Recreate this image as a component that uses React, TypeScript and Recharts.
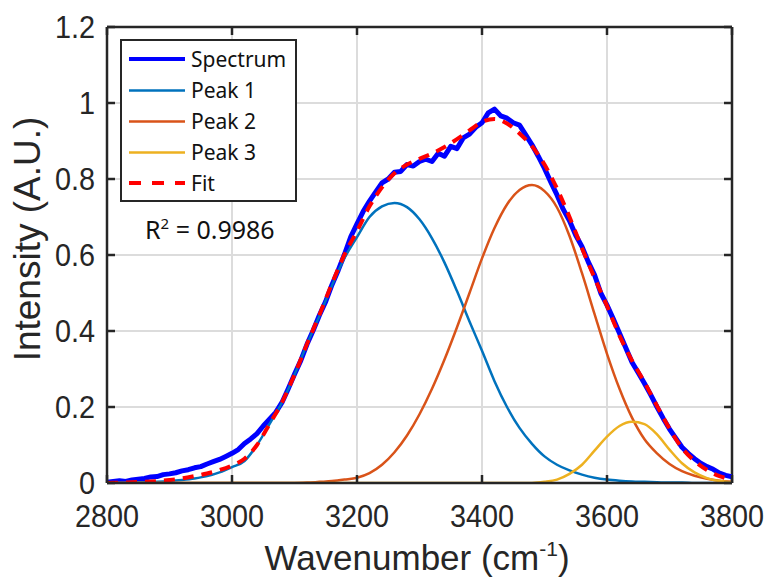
import React from 'react';
import { LineChart, Line, XAxis, YAxis, CartesianGrid, ReferenceLine } from 'recharts';

// wavenumber grids (cm-1)
const waveFine = [
  2800, 2810, 2820, 2830, 2840, 2850, 2860, 2870, 2880, 2890,
  2900, 2910, 2920, 2930, 2940, 2950, 2960, 2970, 2980, 2990,
  3000, 3010, 3020, 3030, 3040, 3050, 3060, 3070, 3080, 3090,
  3100, 3110, 3120, 3130, 3140, 3150, 3160, 3170, 3180, 3190,
  3200, 3210, 3220, 3230, 3240, 3250, 3260, 3270, 3280, 3290,
  3300, 3310, 3320, 3330, 3340, 3350, 3360, 3370, 3380, 3390,
  3400, 3410, 3420, 3430, 3440, 3450, 3460, 3470, 3480, 3490,
  3500, 3510, 3520, 3530, 3540, 3550, 3560, 3570, 3580, 3590,
  3600, 3610, 3620, 3630, 3640, 3650, 3660, 3670, 3680, 3690,
  3700, 3710, 3720, 3730, 3740, 3750, 3760, 3770, 3780, 3790,
  3800,
];

const waveCoarse = [
  2800, 2820, 2840, 2860, 2880, 2900, 2920, 2940, 2960, 2980,
  3000, 3020, 3040, 3060, 3080, 3100, 3120, 3140, 3160, 3180,
  3200, 3220, 3240, 3260, 3280, 3300, 3320, 3340, 3360, 3380,
  3400, 3420, 3440, 3460, 3480, 3500, 3520, 3540, 3560, 3580,
  3600, 3620, 3640, 3660, 3680, 3700, 3720, 3740, 3760, 3780,
  3800,
];

// measured spectrum (on waveFine)
const spectrum = [
  0.002, 0.004, 0.006, 0.004, 0.008, 0.010, 0.012, 0.016, 0.017, 0.022,
  0.024, 0.027, 0.032, 0.035, 0.040, 0.043, 0.050, 0.056, 0.062, 0.070,
  0.078, 0.088, 0.104, 0.116, 0.130, 0.150, 0.168, 0.186, 0.212, 0.248,
  0.286, 0.322, 0.365, 0.402, 0.442, 0.478, 0.522, 0.560, 0.602, 0.648,
  0.682, 0.715, 0.742, 0.766, 0.790, 0.800, 0.818, 0.820, 0.838, 0.834,
  0.846, 0.852, 0.846, 0.868, 0.860, 0.886, 0.880, 0.908, 0.918, 0.936,
  0.948, 0.974, 0.984, 0.966, 0.960, 0.948, 0.942, 0.916, 0.890, 0.860,
  0.828, 0.792, 0.758, 0.720, 0.690, 0.652, 0.622, 0.582, 0.548, 0.500,
  0.468, 0.432, 0.394, 0.356, 0.318, 0.290, 0.262, 0.232, 0.200, 0.170,
  0.142, 0.118, 0.094, 0.078, 0.064, 0.052, 0.043, 0.036, 0.026, 0.020,
  0.016,
];

// fitted components (on waveCoarse)
const peak1 = [
  0.000, 0.000, 0.001, 0.002, 0.003, 0.005, 0.008, 0.012, 0.018, 0.028,
  0.042, 0.058, 0.100, 0.155, 0.212, 0.285, 0.365, 0.440, 0.520, 0.592,
  0.647, 0.700, 0.728, 0.737, 0.726, 0.694, 0.644, 0.580, 0.505, 0.425,
  0.348, 0.268, 0.200, 0.145, 0.103, 0.070, 0.048, 0.033, 0.022, 0.014,
  0.009, 0.006, 0.004, 0.003, 0.002, 0.001, 0.001, 0.000, 0.000, 0.000,
  0.000,
];

const peak2 = [
  0.000, 0.000, 0.000, 0.000, 0.000, 0.000, 0.000, 0.000, 0.000, 0.000,
  0.000, 0.000, 0.000, 0.000, 0.000, 0.000, 0.001, 0.003, 0.005, 0.009,
  0.014, 0.026, 0.048, 0.081, 0.125, 0.181, 0.248, 0.325, 0.410, 0.500,
  0.591, 0.671, 0.733, 0.771, 0.784, 0.768, 0.725, 0.650, 0.552, 0.445,
  0.340, 0.248, 0.172, 0.115, 0.078, 0.050, 0.031, 0.019, 0.011, 0.006,
  0.003,
];

const peak3 = [
  0.000, 0.000, 0.000, 0.000, 0.000, 0.000, 0.000, 0.000, 0.000, 0.000,
  0.000, 0.000, 0.000, 0.000, 0.000, 0.000, 0.000, 0.000, 0.000, 0.000,
  0.000, 0.000, 0.000, 0.000, 0.000, 0.000, 0.000, 0.000, 0.000, 0.000,
  0.000, 0.000, 0.000, 0.000, 0.000, 0.003, 0.009, 0.024, 0.048, 0.085,
  0.122, 0.150, 0.161, 0.155, 0.128, 0.088, 0.052, 0.028, 0.013, 0.005,
  0.002,
];

const fit = [
  0.000, 0.001, 0.002, 0.003, 0.005, 0.008, 0.012, 0.018, 0.025, 0.034,
  0.046, 0.064, 0.100, 0.155, 0.212, 0.285, 0.366, 0.443, 0.525, 0.601,
  0.663, 0.728, 0.778, 0.815, 0.838, 0.853, 0.867, 0.884, 0.905, 0.928,
  0.950, 0.958, 0.946, 0.920, 0.886, 0.838, 0.775, 0.700, 0.618, 0.540,
  0.466, 0.388, 0.322, 0.265, 0.203, 0.143, 0.092, 0.058, 0.034, 0.018,
  0.009,
];

const xTicks = [2800, 3000, 3200, 3400, 3600, 3800];
const yTicks = [0, 0.2, 0.4, 0.6, 0.8, 1, 1.2];
const seriesNames = ['Spectrum', 'Peak 1', 'Peak 2', 'Peak 3', 'Fit'];
const rSquared = '0.9986';

const pts = (xs: number[], ys: number[]) => xs.map((x, i) => ({ x, y: ys[i] }));

const W = 767;
const H = 584;
const M = { top: 27, right: 35, bottom: 41, left: 47 };
const Y_AXIS_W = 60;
const X_AXIS_H = 60;
const PLOT_W = W - M.left - M.right - Y_AXIS_W;
const PLOT_H = H - M.top - M.bottom - X_AXIS_H;
const AX = '#262626';
const TICK_FONT = "'Liberation Sans', Arial, sans-serif";

const styles = [
  { color: '#0000ff', width: 5, dash: undefined as string | undefined },
  { color: '#0072bd', width: 2.5, dash: undefined },
  { color: '#d95319', width: 2.5, dash: undefined },
  { color: '#edb120', width: 2.5, dash: undefined },
  { color: '#ff0000', width: 4, dash: '11 8' },
];

const XTick = (props: any) => {
  const { x, y, payload } = props;
  return (
    <g>
      <line x1={x} x2={x} y1={y} y2={y - 8} stroke={AX} strokeWidth={2.5} />
      <line x1={x} x2={x} y1={y - PLOT_H} y2={y - PLOT_H + 8} stroke={AX} strokeWidth={2.5} />
      <text
        transform={`translate(${x} ${y + 44}) scale(0.9 1)`}
        textAnchor="middle"
        fontSize={32}
        fontFamily={TICK_FONT}
        fill={AX}
      >
        {payload.value}
      </text>
    </g>
  );
};

const YTick = (props: any) => {
  const { x, y, payload } = props;
  return (
    <g>
      <line x1={x} x2={x + 8} y1={y} y2={y} stroke={AX} strokeWidth={2.5} />
      <line x1={x + PLOT_W} x2={x + PLOT_W - 8} y1={y} y2={y} stroke={AX} strokeWidth={2.5} />
      <text
        transform={`translate(${x - 12} ${y + 11}) scale(0.9 1)`}
        textAnchor="end"
        fontSize={32}
        fontFamily={TICK_FONT}
        fill={AX}
      >
        {String(payload.value)}
      </text>
    </g>
  );
};

export default function App() {
  const sets = [
    pts(waveFine, spectrum),
    pts(waveCoarse, peak1),
    pts(waveCoarse, peak2),
    pts(waveCoarse, peak3),
    pts(waveCoarse, fit),
  ];

  const legX = 121;
  const legY = 40;
  const rowY = [59, 90.5, 121.5, 152.5, 183];

  return (
    <div style={{ position: 'absolute', left: 0, top: 0, width: W, height: H, background: '#fff' }}>
      <LineChart width={W} height={H} margin={M}>
        <CartesianGrid stroke="#dcdcdc" strokeWidth={2} />
        <XAxis
          type="number"
          dataKey="x"
          domain={[2800, 3800]}
          ticks={xTicks}
          allowDataOverflow
          height={X_AXIS_H}
          tickSize={0}
          tickMargin={0}
          tickLine={false}
          axisLine={{ stroke: AX, strokeWidth: 2.5 }}
          tick={<XTick />}
          interval={0}
        />
        <YAxis
          type="number"
          domain={[0, 1.2]}
          ticks={yTicks}
          allowDataOverflow
          width={Y_AXIS_W}
          tickSize={0}
          tickMargin={0}
          tickLine={false}
          axisLine={{ stroke: AX, strokeWidth: 2.5 }}
          tick={<YTick />}
          interval={0}
        />
        <ReferenceLine y={1.2} stroke={AX} strokeWidth={2.5} />
        <ReferenceLine x={3800} stroke={AX} strokeWidth={2.5} />
        {sets.map((d, i) => (
          <Line
            key={seriesNames[i]}
            data={d}
            dataKey="y"
            name={seriesNames[i]}
            type={i === 0 ? 'linear' : 'monotone'}
            stroke={styles[i].color}
            strokeWidth={styles[i].width}
            strokeDasharray={styles[i].dash}
            strokeLinejoin="round"
            dot={false}
            activeDot={false}
            isAnimationActive={false}
          />
        ))}
      </LineChart>

      <svg width={W} height={H} style={{ position: 'absolute', left: 0, top: 0, pointerEvents: 'none' }}>
        {/* legend */}
        <rect x={legX} y={legY} width={175} height={161} fill="#fff" stroke={AX} strokeWidth={2} />
        {seriesNames.map((n, i) => (
          <g key={n}>
            <line
              x1={129}
              x2={185}
              y1={rowY[i]}
              y2={rowY[i]}
              stroke={styles[i].color}
              strokeWidth={i === 0 ? 4 : i === 4 ? 4 : 2.5}
              strokeDasharray={i === 4 ? '12 11' : undefined}
            />
            <text x={191} y={rowY[i] + 7.5} fontSize={21} fontFamily="'Noto Sans', sans-serif" fill="#111">
              {n}
            </text>
          </g>
        ))}

        {/* R squared */}
        <text x={145} y={239} fontSize={25} fontFamily="'Noto Sans', sans-serif" fill="#111">
          R<tspan fontSize={15} dy={-10}>2</tspan>
          <tspan dy={10}> = {rSquared}</tspan>
        </text>

        {/* axis titles */}
        <text x={417} y={570} textAnchor="middle" fontSize={35} fontFamily={TICK_FONT} fill={AX}>
          Wavenumber (cm<tspan fontSize={21} dy={-14}>-1</tspan>
          <tspan dy={14}>)</tspan>
        </text>
        <text
          transform="translate(40 239) rotate(-90)"
          textAnchor="middle"
          fontSize={37}
          fontFamily={TICK_FONT}
          fill={AX}
        >
          Intensity (A.U.)
        </text>
      </svg>
    </div>
  );
}
